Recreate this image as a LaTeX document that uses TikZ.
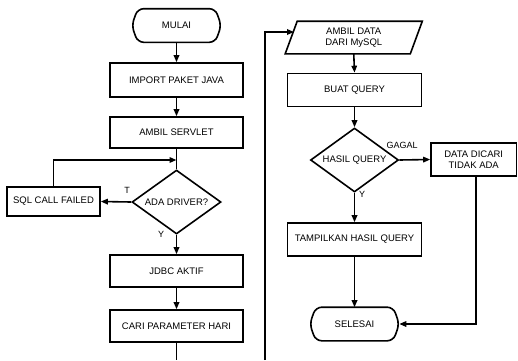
\documentclass[tikz,border=0pt]{standalone}
\usepackage{fontspec}
\setmainfont{Liberation Sans}
\usetikzlibrary{shapes.geometric,arrows.meta,calc}
\begin{document}
\begin{tikzpicture}[x=1pt,y=-1pt,
  font=\fontsize{9.5}{11}\selectfont,
  line width=1.6pt,
  box/.style={draw,rectangle,minimum width=133pt,minimum height=32pt,inner sep=1pt,align=center},
  dec/.style={draw,diamond,minimum width=89pt,minimum height=64pt,inner sep=0pt},
  term/.style={rectangle,minimum width=88pt,minimum height=32pt,inner sep=1pt},
  arr/.style={-{Triangle[length=7pt,width=5.5pt]}},
  lbl/.style={font=\fontsize{9}{10}\selectfont,inner sep=0pt}
]
\useasboundingbox (0,0) rectangle (518,360);
% left column
\node[term] (mulai) at (176.5,25.5) {MULAI};
\node[box,minimum height=34pt] (import) at (176.5,80) {IMPORT PAKET JAVA};
\node[box,minimum height=31pt] (servlet) at (176.5,132.5) {AMBIL SERVLET};
\node[dec,label=center:{ADA DRIVER?}] (driver) at (176.5,202) {};
\node[box,minimum width=93pt,minimum height=29pt] (sqlfail) at (53.5,201.5) {SQL CALL FAILED};
\node[box] (jdbc) at (176.5,271) {JDBC AKTIF};
\node[box] (cari) at (176.5,326) {CARI PARAMETER HARI};
\node[lbl] (tlabel) at (127,190) {T};
\node[lbl] (ylabel1) at (161,234) {Y};
\coordinate (join) at (176.5,160);
\coordinate (lbot) at (176.5,360);
% right column
\node[rectangle,minimum width=123.5pt,minimum height=31pt,inner sep=1pt,align=center] (ambil) at (353.75,37.5) {AMBIL DATA\\DARI MySQL};
\node[box,minimum width=134pt,minimum height=33pt] (buat) at (354.5,90) {BUAT QUERY};
\node[dec,minimum width=88pt,label=center:{HASIL QUERY}] (hasil) at (354.5,160) {};
\node[box,minimum width=85.5pt,minimum height=33pt,align=center] (tidak) at (473.75,159.5) {DATA DICARI\\TIDAK ADA};
\node[box,minimum width=134pt,minimum height=33pt] (tampil) at (354.5,239.5) {TAMPILKAN HASIL QUERY};
\node[term] (selesai) at (354.5,324) {SELESAI};
\node[lbl] (gagal) at (402,145) {GAGAL};
\node[lbl] (ylabel2) at (362,194) {Y};
\coordinate (rbot) at (265,360);
\coordinate (ain) at (294,32);
% special shapes
\foreach \n in {mulai,selesai}
  \draw[rounded corners=6pt] ($(\n.north west)+(6,0)$) -- ($(\n.north east)+(-6,0)$) -- (\n.east) -- ($(\n.south east)+(-6,0)$) -- ($(\n.south west)+(6,0)$) -- (\n.west) -- cycle;
\draw ($(ambil.north west)+(6,0)$) -- ($(ambil.north east)+(6,0)$) -- ($(ambil.south east)+(-6,0)$) -- ($(ambil.south west)+(-6,0)$) -- cycle;
% connectors left
\draw[arr] (mulai) -- (import);
\draw[arr] (import) -- (servlet);
\draw (servlet) -- (driver);
\draw[arr] (sqlfail.north) |- (join);
\draw[arr] (driver.west) -- (sqlfail.east);
\draw[arr] (driver.south) -- (jdbc.north);
\draw[arr] (jdbc) -- (cari);
\draw (cari.south) -- (lbot);
% connectors right
\draw[arr] (rbot) |- (ain);
\draw[arr] (ambil.south) -- (buat.north);
\draw[arr] (buat.south) -- (hasil.north);
\draw[arr] (hasil.east) -- (tidak.west);
\draw[arr] (hasil.south) -- (tampil.north);
\draw[arr] (tampil.south) -- (selesai.north);
\draw[arr] ($(tidak.south)+(2.5,0)$) |- (selesai.east);
\end{tikzpicture}
\end{document}
